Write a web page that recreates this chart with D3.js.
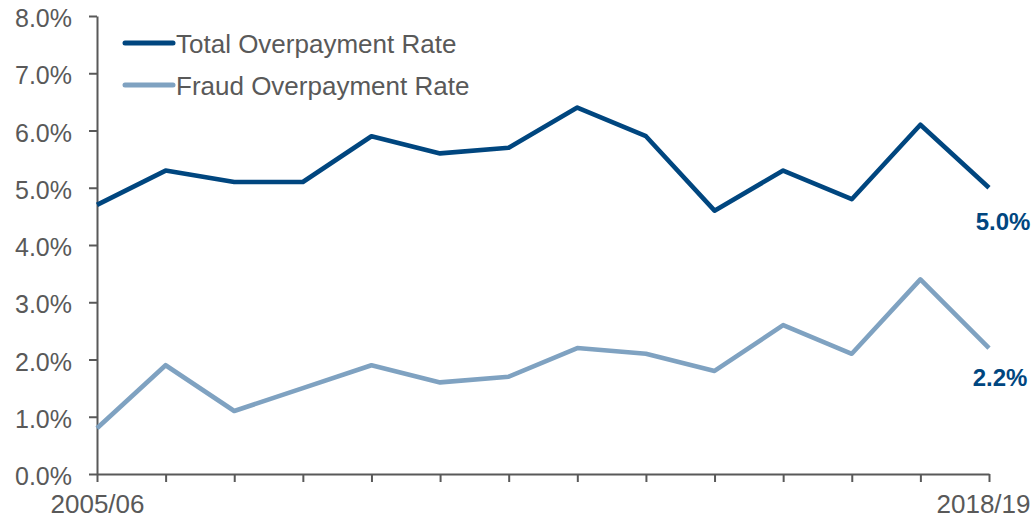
<!DOCTYPE html>
<html>
<head>
<meta charset="utf-8">
<script src="https://cdn.jsdelivr.net/npm/d3@7"></script>
<style>
  html, body { margin: 0; padding: 0; background: #fff; }
  svg { display: block; font-family: "Liberation Sans", Arial, sans-serif; }
</style>
</head>
<body>
<svg id="chart" width="1034" height="518"></svg>
<script>
const years = ["2005/06","2006/07","2007/08","2008/09","2009/10","2010/11","2011/12","2012/13","2013/14","2014/15","2015/16","2016/17","2017/18","2018/19"];
const totalRate = [4.7, 5.3, 5.1, 5.1, 5.9, 5.6, 5.7, 6.4, 5.9, 4.6, 5.3, 4.8, 6.1, 5.0];
const fraudRate = [0.8, 1.9, 1.1, 1.5, 1.9, 1.6, 1.7, 2.2, 2.1, 1.8, 2.6, 2.1, 3.4, 2.2];
const yTicks = [0, 1, 2, 3, 4, 5, 6, 7, 8];
const xLabelShown = ["2005/06", "2018/19"];
const seriesNames = ["Total Overpayment Rate", "Fraud Overpayment Rate"];
const seriesColors = ["#00467F", "#7FA2C1"];

const svg = d3.select("#chart");
const mLeft = 97, mRight = 989, mTop = 16, mBottom = 474;
const axisColor = "#595959";

const x = d3.scalePoint().domain(years).range([mLeft, mRight]);
const y = d3.scaleLinear().domain([0, 8]).range([mBottom, mTop]);

// Y axis
const yAxis = svg.append("g").attr("transform", `translate(${mLeft},0)`)
  .call(d3.axisLeft(y).tickValues(yTicks).tickSize(8).tickSizeOuter(0).tickFormat(d => d3.format(".1f")(d) + "%"));
yAxis.select(".domain").attr("stroke", axisColor).attr("stroke-width", 2);
yAxis.selectAll(".tick line").attr("stroke", axisColor).attr("stroke-width", 2);
yAxis.selectAll(".tick text").attr("fill", "#595959").attr("font-size", 25)
  .attr("x", -25).attr("dy", "0.42em").attr("font-family", "Liberation Sans, Arial, sans-serif");

// X axis
const xAxis = svg.append("g").attr("transform", `translate(0,${mBottom})`)
  .call(d3.axisBottom(x).tickSize(8).tickSizeOuter(0).tickFormat(d => xLabelShown.includes(d) ? d : ""));
xAxis.select(".domain").attr("stroke", axisColor).attr("stroke-width", 2);
xAxis.selectAll(".tick line").attr("stroke", axisColor).attr("stroke-width", 2);
xAxis.selectAll(".tick text").attr("fill", "#595959").attr("font-size", 26)
  .attr("y", 21).attr("dy", "0.71em").attr("font-family", "Liberation Sans, Arial, sans-serif")
  .attr("x", d => d === years[years.length - 1] ? -6 : 0);

// Lines
const line = d3.line().x((d, i) => x(years[i])).y(d => y(d));
[totalRate, fraudRate].forEach((data, k) => {
  svg.append("path").datum(data)
    .attr("d", line)
    .attr("fill", "none")
    .attr("stroke", seriesColors[k])
    .attr("stroke-width", 4.6)
    .attr("stroke-linejoin", "round")
    .attr("stroke-linecap", "butt");
});

// End labels
const last = years.length - 1;
svg.append("text").attr("x", x(years[last]) + 14).attr("y", y(totalRate[last]) + 42)
  .attr("text-anchor", "middle").attr("font-size", 24).attr("font-weight", "bold")
  .attr("fill", seriesColors[0]).text(d3.format(".1f")(totalRate[last]) + "%");
svg.append("text").attr("x", x(years[last]) + 11).attr("y", y(fraudRate[last]) + 38)
  .attr("text-anchor", "middle").attr("font-size", 24).attr("font-weight", "bold")
  .attr("fill", seriesColors[0]).text(d3.format(".1f")(fraudRate[last]) + "%");

// Legend
const legend = svg.append("g");
seriesNames.forEach((name, k) => {
  const ly = 43 + k * 42;
  legend.append("line").attr("x1", 125).attr("x2", 173).attr("y1", ly).attr("y2", ly)
    .attr("stroke", seriesColors[k]).attr("stroke-width", 5).attr("stroke-linecap", "round");
  legend.append("text").attr("x", 176).attr("y", ly + 9.5)
    .attr("font-size", 26).attr("fill", "#595959").text(name);
});
</script>
</body>
</html>
